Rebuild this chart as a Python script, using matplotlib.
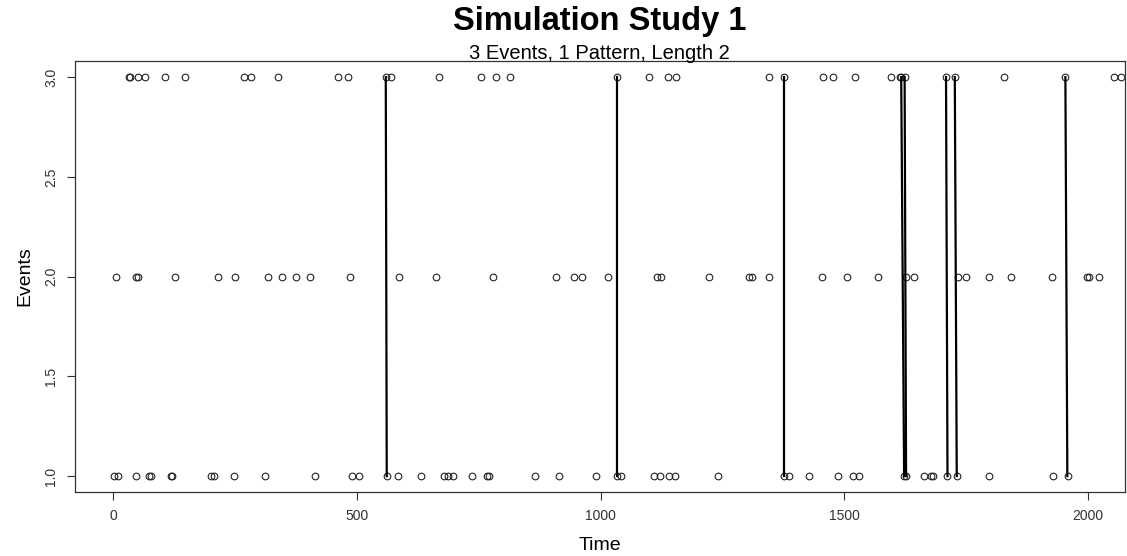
import matplotlib
matplotlib.use("Agg")
import matplotlib.pyplot as plt

plt.rcParams['font.family'] = ['Liberation Sans', 'DejaVu Sans']

# Event times for each event type
times_e3 = [32, 35, 50, 64, 105, 146, 269, 283, 338, 461, 481, 559, 570, 669,
            755, 786, 813, 1034, 1099, 1138, 1154, 1345, 1376, 1456, 1478, 1523,
            1596, 1614, 1617, 1624, 1709, 1727, 1827, 1953, 2054, 2068]
times_e2 = [5, 47, 50, 127, 215, 249, 317, 345, 374, 403, 485, 586, 663, 779,
            909, 945, 962, 1015, 1116, 1123, 1222, 1304, 1311, 1345, 1455, 1506,
            1569, 1627, 1644, 1734, 1750, 1797, 1842, 1926, 1999, 2003, 2022]
times_e1 = [1, 9, 47, 72, 77, 118, 121, 200, 206, 247, 312, 414, 490, 505, 561,
            584, 632, 678, 687, 696, 735, 767, 770, 866, 914, 990, 1034, 1042,
            1109, 1121, 1140, 1152, 1241, 1376, 1386, 1427, 1487, 1518, 1531,
            1623, 1627, 1663, 1678, 1682, 1712, 1731, 1798, 1929, 1959]

# Pattern occurrences: event 3 at start time followed by event 1 at end time
pattern_start = [559, 1034, 1376, 1617, 1624, 1709, 1727, 1954]
pattern_end = [561, 1034, 1376, 1623, 1627, 1712, 1731, 1958]

x_ticks = [0, 500, 1000, 1500, 2000]
y_ticks = [1.0, 1.5, 2.0, 2.5, 3.0]

fig = plt.figure(figsize=(11.27, 5.56), dpi=100)
ax = fig.add_axes([0.0665, 0.115, 0.932, 0.775])

for level, times in ((3, times_e3), (2, times_e2), (1, times_e1)):
    ax.plot(times, [level] * len(times), linestyle='none', marker='o',
            markersize=4.8, markerfacecolor='none', markeredgecolor='#222222',
            markeredgewidth=0.8)

for t0, t1 in zip(pattern_start, pattern_end):
    ax.plot([t0, t1], [3, 1], color='black', linewidth=1.6)

ax.set_xlim(-79, 2077)
ax.set_ylim(0.92, 3.08)
ax.set_xticks(x_ticks)
ax.set_xticklabels([str(v) for v in x_ticks])
ax.set_yticks(y_ticks)
ax.set_yticklabels([f"{v:.1f}" for v in y_ticks], rotation=90, va='center')

ax.tick_params(direction='out', length=6, width=0.8, colors='#333333',
               labelsize=10, pad=6)
for s in ax.spines.values():
    s.set_color('#333333')
    s.set_linewidth(0.9)

ax.set_xlabel('Time', fontsize=14, labelpad=10)
ax.set_ylabel('Events', fontsize=14, labelpad=8)

fig.text(0.532, 0.962, 'Simulation Study 1', ha='center', va='center',
         fontsize=23.5, fontweight='bold')
fig.text(0.532, 0.904, '3 Events, 1 Pattern, Length 2', ha='center',
         va='center', fontsize=14.5)

fig.savefig('out.png', dpi=100)
